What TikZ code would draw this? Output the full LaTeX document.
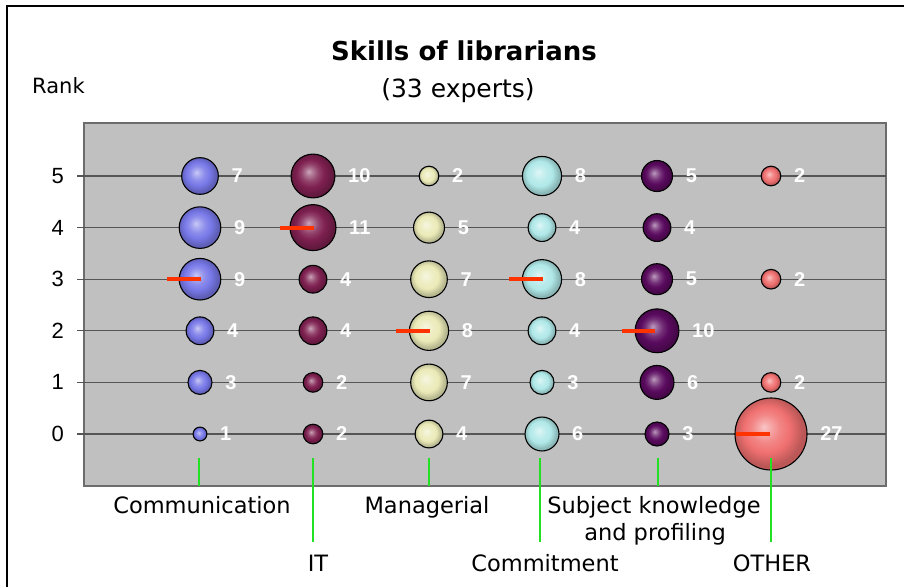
\documentclass[tikz,border=0pt]{standalone}
\usepackage{fontspec}
\setmainfont{DejaVu Sans}
\newfontfamily\arialf{Liberation Sans}
\definecolor{commc}{HTML}{7878E8}
\definecolor{itc}{HTML}{7E2050}
\definecolor{mgc}{HTML}{EAEAB8}
\definecolor{cmc}{HTML}{B0E8E8}
\definecolor{sbc}{HTML}{5A0A5E}
\definecolor{otc}{HTML}{F07070}
\definecolor{plotbg}{HTML}{C0C0C0}
\definecolor{gridc}{HTML}{555555}
\definecolor{meanc}{HTML}{FF3300}
\definecolor{tickc}{HTML}{22E022}
\colorlet{bubc}{commc}
\pgfdeclareradialshading[bubc]{bubble}{\pgfpoint{-5bp}{5bp}}{%
  color(0bp)=(bubc!40!white); color(4bp)=(bubc!60!white); color(10bp)=(bubc!85!white);
  color(16bp)=(bubc); color(24bp)=(bubc!78!black); color(40bp)=(bubc!78!black)}
\tikzset{
  bub/.style={circle, draw=black, line width=1.1pt, shading=bubble, inner sep=0pt},
  num/.style={anchor=west, inner sep=0pt, text=white, font=\arialf\bfseries\fontsize{20}{24}\selectfont},
  axn/.style={anchor=east, inner sep=0pt, font=\arialf\fontsize{22}{26}\selectfont},
  lab/.style={anchor=base, inner sep=0pt, font=\fontsize{22.5}{27}\selectfont},
  gridl/.style={draw=gridc, line width=1.3pt},
  meanln/.style={draw=meanc, line width=3.8pt},
  greenln/.style={draw=tickc, line width=2.6pt},
}
\newcommand\mybub[4]{%
  \pgfmathsetmacro\br{6.93*sqrt(#4)}%
  \pgfmathsetmacro\by{434-51.6*#3}%
  \node[bub, minimum size={2*\br pt}] (#1) at (#2,\by) {};
  \node[num] (#1n) at ([xshift=12.5pt]#1.east) {#4};
}
\begin{document}
\begin{tikzpicture}[x=1pt,y=-1pt]
\useasboundingbox (0,0) rectangle (904,587);
% frame
\draw[line width=2.5pt] (7,587) -- (7,6) -- (904,6);
% titles
\node[anchor=base, inner sep=0pt, font=\bfseries\fontsize{26}{30}\selectfont] (title) at (464,60) {Skills of librarians};
\node[anchor=base, inner sep=0pt, font=\fontsize{25}{30}\selectfont] (subtitle) at (458,97) {(33 experts)};
\node[anchor=base west, inner sep=0pt, font=\fontsize{21}{25}\selectfont] (rank) at (32,93) {Rank};
% plot area
\fill[plotbg] (84,123) rectangle (886,486);
\draw[draw=gray!85!black, line width=1.4pt] (84,123) rectangle (886,486);
\foreach \k in {0,...,5}{
  \draw[gridl] (77,434-51.6*\k) -- (886,434-51.6*\k);
  \node[axn] (ax\k) at (64,434-51.6*\k) {\k};
}
% Communication
\colorlet{bubc}{commc}
\mybub{co5}{200}{5}{7}\mybub{co4}{200}{4}{9}\mybub{co3}{200}{3}{9}
\mybub{co2}{200}{2}{4}\mybub{co1}{200}{1}{3}\mybub{co0}{200}{0}{1}
% IT
\colorlet{bubc}{itc}
\mybub{it5}{313}{5}{10}\mybub{it4}{313}{4}{11}\mybub{it3}{313}{3}{4}
\mybub{it2}{313}{2}{4}\mybub{it1}{313}{1}{2}\mybub{it0}{313}{0}{2}
% Managerial
\colorlet{bubc}{mgc}
\mybub{mg5}{429}{5}{2}\mybub{mg4}{429}{4}{5}\mybub{mg3}{429}{3}{7}
\mybub{mg2}{429}{2}{8}\mybub{mg1}{429}{1}{7}\mybub{mg0}{429}{0}{4}
% Commitment
\colorlet{bubc}{cmc}
\mybub{cm5}{542}{5}{8}\mybub{cm4}{542}{4}{4}\mybub{cm3}{542}{3}{8}
\mybub{cm2}{542}{2}{4}\mybub{cm1}{542}{1}{3}\mybub{cm0}{542}{0}{6}
% Subject knowledge
\colorlet{bubc}{sbc}
\mybub{sb5}{657}{5}{5}\mybub{sb4}{657}{4}{4}\mybub{sb3}{657}{3}{5}
\mybub{sb2}{657}{2}{10}\mybub{sb1}{657}{1}{6}\mybub{sb0}{657}{0}{3}
% OTHER
\colorlet{bubc}{otc}
\mybub{ot5}{771}{5}{2}\mybub{ot3}{771}{3}{2}\mybub{ot1}{771}{1}{2}\mybub{ot0}{771}{0}{27}
% mean markers
\draw[meanln] ([xshift=-33pt]co3.center) -- ([xshift=1pt]co3.center);
\draw[meanln] ([xshift=-33pt]it4.center) -- ([xshift=1pt]it4.center);
\draw[meanln] ([xshift=-33pt]mg2.center) -- ([xshift=1pt]mg2.center);
\draw[meanln] ([xshift=-33pt]cm3.center) -- ([xshift=1pt]cm3.center);
\draw[meanln] ([xshift=-35pt]sb2.center) -- ([xshift=-2pt]sb2.center);
\draw[meanln] ([xshift=-35pt]ot0.center) -- ([xshift=-1pt]ot0.center);
% category ticks
\coordinate (gco) at (199,458); \coordinate (gcoe) at (199,486);
\coordinate (git) at (313,458); \coordinate (gite) at (313,542);
\coordinate (gmg) at (429,458); \coordinate (gmge) at (429,486);
\coordinate (gcm) at (540,458); \coordinate (gcme) at (540,542);
\coordinate (gsb) at (658,458); \coordinate (gsbe) at (658,486);
\coordinate (got) at (771,458); \coordinate (gote) at (771,542);
\draw[greenln] (gco) -- (gcoe);
\draw[greenln] (git) -- (gite);
\draw[greenln] (gmg) -- (gmge);
\draw[greenln] (gcm) -- (gcme);
\draw[greenln] (gsb) -- (gsbe);
\draw[greenln] (got) -- (gote);
% category labels
\node[lab] (lco) at (202,513) {Communication};
\node[lab] (lmg) at (427,513) {Managerial};
\node[lab] (lsb) at (654,513) {Subject knowledge};
\node[lab] (lsb2) at (655,540) {and profiling};
\node[lab] (lit) at (318,571) {IT};
\node[lab] (lcm) at (545,571) {Commitment};
\node[lab] (lot) at (772,571) {OTHER};
\end{tikzpicture}
\end{document}
